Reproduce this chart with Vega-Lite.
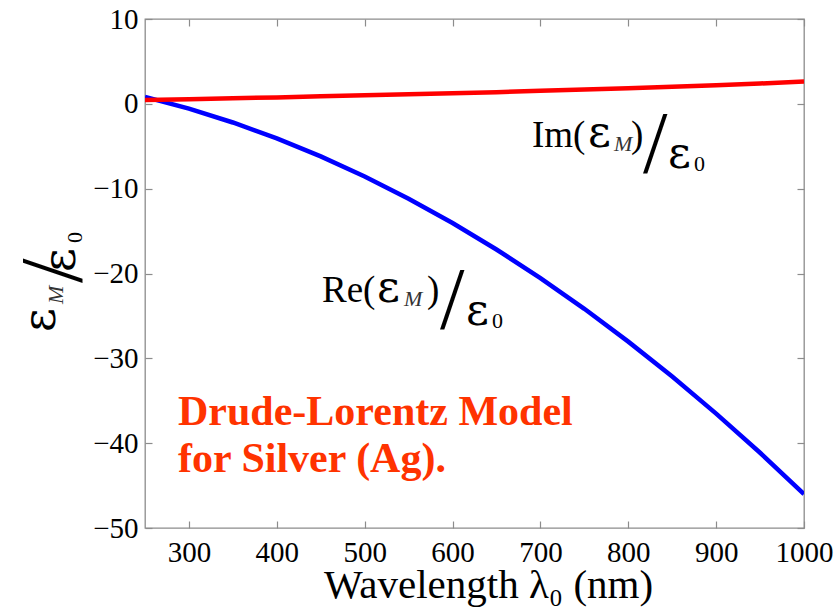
{
  "$schema": "https://vega.github.io/schema/vega-lite/v6.json",
  "width": 659,
  "height": 509,
  "autosize": "none",
  "padding": {"left": 145, "top": 19, "right": 35, "bottom": 79},
  "background": "white",
  "config": {
    "view": {"stroke": "#8c8c8c", "strokeWidth": 1.3},
    "font": "Liberation Serif",
    "axis": {
      "domain": false,
      "tickColor": "#8c8c8c",
      "tickWidth": 1.2,
      "tickSize": 7,
      "offset": -7,
      "grid": false,
      "labelFlush": false,
      "labelOverlap": false,
      "labelFont": "Liberation Serif",
      "labelFontSize": 29,
      "labelColor": "black",
      "titleFont": "Liberation Serif",
      "titleFontSize": 41,
      "titleFontWeight": "normal",
      "titleColor": "black"
    }
  },
  "datasets": {
    "curves": [
      {"wl": 250, "value": 0.8, "part": "Re"},
      {"wl": 300, "value": -0.57, "part": "Re"},
      {"wl": 350, "value": -2.2, "part": "Re"},
      {"wl": 400, "value": -4.07, "part": "Re"},
      {"wl": 450, "value": -6.19, "part": "Re"},
      {"wl": 500, "value": -8.56, "part": "Re"},
      {"wl": 550, "value": -11.18, "part": "Re"},
      {"wl": 600, "value": -14.05, "part": "Re"},
      {"wl": 650, "value": -17.17, "part": "Re"},
      {"wl": 700, "value": -20.54, "part": "Re"},
      {"wl": 750, "value": -24.16, "part": "Re"},
      {"wl": 800, "value": -28.03, "part": "Re"},
      {"wl": 850, "value": -32.15, "part": "Re"},
      {"wl": 900, "value": -36.52, "part": "Re"},
      {"wl": 950, "value": -41.13, "part": "Re"},
      {"wl": 1000, "value": -46.0, "part": "Re"},
      {"wl": 250, "value": 0.45, "part": "Im"},
      {"wl": 300, "value": 0.55, "part": "Im"},
      {"wl": 350, "value": 0.65, "part": "Im"},
      {"wl": 400, "value": 0.76, "part": "Im"},
      {"wl": 450, "value": 0.88, "part": "Im"},
      {"wl": 500, "value": 1.0, "part": "Im"},
      {"wl": 550, "value": 1.12, "part": "Im"},
      {"wl": 600, "value": 1.25, "part": "Im"},
      {"wl": 650, "value": 1.38, "part": "Im"},
      {"wl": 700, "value": 1.53, "part": "Im"},
      {"wl": 750, "value": 1.68, "part": "Im"},
      {"wl": 800, "value": 1.84, "part": "Im"},
      {"wl": 850, "value": 2.01, "part": "Im"},
      {"wl": 900, "value": 2.2, "part": "Im"},
      {"wl": 950, "value": 2.4, "part": "Im"},
      {"wl": 1000, "value": 2.62, "part": "Im"}
    ],
    "mainText": [
      {"wl": 690.4, "value": -5.09, "t": "Im("},
      {"wl": 803.1, "value": -5.09, "t": ")"},
      {"wl": 451.4, "value": -23.36, "t": "Re("},
      {"wl": 570.9, "value": -23.36, "t": ")"}
    ],
    "greek": [
      {"wl": 754.2, "value": -5.09, "t": "ε"},
      {"wl": 845.2, "value": -7.56, "t": "ε"},
      {"wl": 514.0, "value": -23.36, "t": "ε"},
      {"wl": 615.3, "value": -26.07, "t": "ε"}
    ],
    "subM": [
      {"wl": 783.8, "value": -5.56, "t": "M"},
      {"wl": 544.8, "value": -23.83, "t": "M"}
    ],
    "sub0": [
      {"wl": 874.8, "value": -7.92, "t": "0"},
      {"wl": 644.9, "value": -26.42, "t": "0"}
    ],
    "slash": [
      {"wl": 816.8, "value": -8.04, "t": "/"},
      {"wl": 585.7, "value": -26.42, "t": "/"}
    ],
    "yGreek": [
      {"wl": 147.6, "value": -26.9, "t": "ε"},
      {"wl": 170.3, "value": -19.82, "t": "ε"}
    ],
    "yM": [{"wl": 156.7, "value": -23.6, "t": "M"}],
    "ySlash": [{"wl": 177.2, "value": -21.12, "t": "/"}],
    "y0": [{"wl": 178.3, "value": -16.4, "t": "0"}],
    "model": [
      {"wl": 287.6, "value": -37.86, "t": "Drude-Lorentz Model"},
      {"wl": 287.6, "value": -43.4, "t": "for Silver (Ag)."}
    ]
  },
  "resolve": {"axis": {"x": "independent", "y": "independent"}},
  "layer": [
    {
      "data": {"name": "curves"},
      "mark": {"type": "line", "strokeWidth": 4.5, "clip": true},
      "encoding": {
        "x": {"field": "wl", "type": "quantitative", "scale": {"domain": [250, 1000], "nice": false, "zero": false},
              "axis": {"orient": "bottom", "values": [300, 400, 500, 600, 700, 800, 900, 1000], "format": "d",
                       "labelFont": "Liberation Serif", "labelFontSize": 29, "labelPadding": 10,
                       "title": "Wavelength λ₀ (nm)", "titleFont": "Liberation Serif", "titleFontSize": 41,
                       "titleBaseline": "alphabetic", "titleAlign": "center", "titleX": 343, "titleY": 76}},
        "y": {"field": "value", "type": "quantitative", "scale": {"domain": [-50, 10], "nice": false, "zero": false},
              "axis": {"orient": "left", "values": [-50, -40, -30, -20, -10, 0, 10], "format": "d",
                       "labelFont": "Liberation Serif", "labelFontSize": 29, "labelPadding": 7, "title": null}},
        "color": {"field": "part", "type": "nominal", "scale": {"domain": ["Re", "Im"], "range": ["#0000ff", "#ff0000"]}, "legend": null},
        "order": {"field": "wl", "type": "quantitative"}
      }
    },
    {
      "data": {"name": "curves"},
      "mark": {"type": "point", "opacity": 0},
      "encoding": {
        "x": {"field": "wl", "type": "quantitative",
              "axis": {"orient": "top", "values": [300, 400, 500, 600, 700, 800, 900, 1000], "labels": false, "title": null}},
        "y": {"field": "value", "type": "quantitative",
              "axis": {"orient": "right", "values": [-50, -40, -30, -20, -10, 0, 10], "labels": false, "title": null}}
      }
    },
    {
      "data": {"name": "mainText"},
      "mark": {"type": "text", "align": "left", "baseline": "alphabetic", "fontSize": 37, "font": "Liberation Serif", "color": "black"},
      "encoding": {
        "x": {"field": "wl", "type": "quantitative", "axis": null},
        "y": {"field": "value", "type": "quantitative", "axis": null},
        "text": {"field": "t"}
      }
    },
    {
      "data": {"name": "greek"},
      "mark": {"type": "text", "align": "left", "baseline": "alphabetic", "fontSize": 44, "font": "DejaVu Serif", "color": "black"},
      "encoding": {
        "x": {"field": "wl", "type": "quantitative", "axis": null},
        "y": {"field": "value", "type": "quantitative", "axis": null},
        "text": {"field": "t"}
      }
    },
    {
      "data": {"name": "subM"},
      "mark": {"type": "text", "align": "left", "baseline": "alphabetic", "fontSize": 22, "fontStyle": "italic", "font": "Liberation Serif", "color": "#333333"},
      "encoding": {
        "x": {"field": "wl", "type": "quantitative", "axis": null},
        "y": {"field": "value", "type": "quantitative", "axis": null},
        "text": {"field": "t"}
      }
    },
    {
      "data": {"name": "sub0"},
      "mark": {"type": "text", "align": "left", "baseline": "alphabetic", "fontSize": 22, "font": "Liberation Serif", "color": "black"},
      "encoding": {
        "x": {"field": "wl", "type": "quantitative", "axis": null},
        "y": {"field": "value", "type": "quantitative", "axis": null},
        "text": {"field": "t"}
      }
    },
    {
      "data": {"name": "slash"},
      "mark": {"type": "text", "align": "left", "baseline": "alphabetic", "fontSize": 88, "font": "Liberation Serif", "color": "black"},
      "encoding": {
        "x": {"field": "wl", "type": "quantitative", "axis": null},
        "y": {"field": "value", "type": "quantitative", "axis": null},
        "text": {"field": "t"}
      }
    },
    {
      "data": {"name": "yGreek"},
      "mark": {"type": "text", "align": "left", "baseline": "alphabetic", "angle": 270, "fontSize": 46, "font": "DejaVu Serif", "color": "black"},
      "encoding": {
        "x": {"field": "wl", "type": "quantitative", "axis": null},
        "y": {"field": "value", "type": "quantitative", "axis": null},
        "text": {"field": "t"}
      }
    },
    {
      "data": {"name": "yM"},
      "mark": {"type": "text", "align": "left", "baseline": "alphabetic", "angle": 270, "fontSize": 22, "fontStyle": "italic", "font": "Liberation Serif", "color": "#333333"},
      "encoding": {
        "x": {"field": "wl", "type": "quantitative", "axis": null},
        "y": {"field": "value", "type": "quantitative", "axis": null},
        "text": {"field": "t"}
      }
    },
    {
      "data": {"name": "ySlash"},
      "mark": {"type": "text", "align": "left", "baseline": "alphabetic", "angle": 270, "fontSize": 88, "font": "Liberation Serif", "color": "black"},
      "encoding": {
        "x": {"field": "wl", "type": "quantitative", "axis": null},
        "y": {"field": "value", "type": "quantitative", "axis": null},
        "text": {"field": "t"}
      }
    },
    {
      "data": {"name": "y0"},
      "mark": {"type": "text", "align": "left", "baseline": "alphabetic", "angle": 270, "fontSize": 22, "font": "Liberation Serif", "color": "black"},
      "encoding": {
        "x": {"field": "wl", "type": "quantitative", "axis": null},
        "y": {"field": "value", "type": "quantitative", "axis": null},
        "text": {"field": "t"}
      }
    },
    {
      "data": {"name": "model"},
      "mark": {"type": "text", "align": "left", "baseline": "alphabetic", "fontSize": 42, "fontWeight": "bold", "font": "Liberation Serif", "color": "#ff3300"},
      "encoding": {
        "x": {"field": "wl", "type": "quantitative", "axis": null},
        "y": {"field": "value", "type": "quantitative", "axis": null},
        "text": {"field": "t"}
      }
    }
  ]
}
